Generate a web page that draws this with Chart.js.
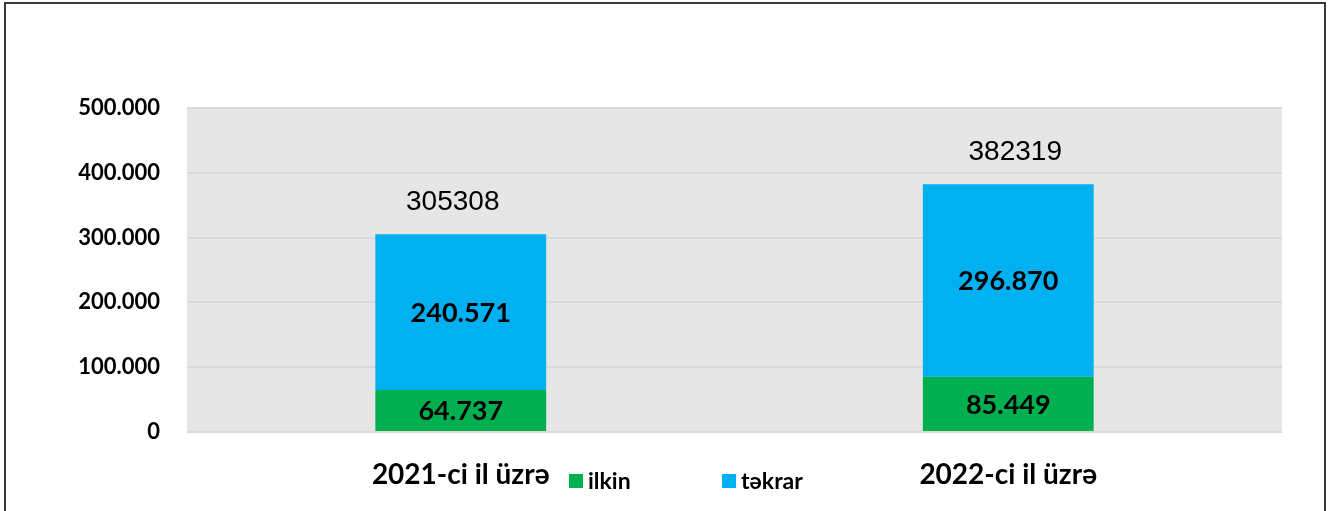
<!DOCTYPE html>
<html>
<head>
<meta charset="utf-8">
<script src="https://cdn.jsdelivr.net/npm/chart.js@4.4.1/dist/chart.umd.min.js"></script>
<style>
  html, body { margin: 0; padding: 0; background: #fff; }
  #wrap { position: relative; width: 1336px; height: 511px; overflow: hidden; }
  #frame { position: absolute; left: 4px; top: 2px; width: 1322px; height: 520px; border: 2px solid #3a3a3a; box-sizing: border-box; pointer-events: none; }
  canvas { position: absolute; left: 0; top: 0; }
</style>
</head>
<body>
<div id="wrap">
  <canvas id="grafico" width="1336" height="511"></canvas>
  <div id="frame"></div>
</div>
<script>
const categorias = ["2021-ci il üzrə", "2022-ci il üzrə"];
const ilkin = [64737, 85449];
const tekrar = [240571, 296870];
const cemler = [305308, 382319];
const rotulos = ["ilkin", "təkrar"];
const cores = ["#00b050", "#00b0f0"];

const fonteCal = "Lato";
const fmt = v => Math.round(v).toString().replace(/\B(?=(\d{3})+(?!\d))/g, ".");

// fundo cinza da área do gráfico
const fundo = {
  id: "fundo",
  beforeDraw(chart) {
    const a = chart.chartArea, c = chart.ctx;
    c.save();
    c.fillStyle = "#e6e6e6";
    c.fillRect(a.left, a.top, a.right - a.left, a.bottom - a.top);
    c.restore();
  }
};

// rótulos dos segmentos e totais
const rotulosBarra = {
  id: "rotulosBarra",
  afterDatasetsDraw(chart) {
    const c = chart.ctx;
    c.save();
    c.textAlign = "center";
    c.textBaseline = "middle";
    c.fillStyle = "#000";
    chart.data.datasets.forEach((ds, i) => {
      const meta = chart.getDatasetMeta(i);
      meta.data.forEach((bar, j) => {
        const p = bar.getProps(["x", "y", "base"], true);
        c.font = "bold 27px " + fonteCal;
        c.fillText(fmt(ds.data[j]), p.x, (p.y + p.base) / 2 + 1);
      });
    });
    const y = chart.scales.y;
    const top = chart.getDatasetMeta(1).data;
    const desloc = [-8, 7];
    c.font = "28px 'Liberation Sans', Arial";
    cemler.forEach((t, j) => {
      c.fillText(String(t), top[j].x + desloc[j], y.getPixelForValue(t) - 32);
    });
    c.restore();
  }
};

// legenda entre os rótulos do eixo x
const legenda = {
  id: "legenda",
  afterDraw(chart) {
    const c = chart.ctx;
    const xs = [569, 722];
    c.save();
    c.font = "bold 23px " + fonteCal;
    c.textBaseline = "middle";
    c.textAlign = "left";
    chart.data.datasets.forEach((ds, i) => {
      c.fillStyle = ds.backgroundColor;
      c.fillRect(xs[i], 474, 14, 14);
      c.fillStyle = "#000";
      c.fillText(ds.label, xs[i] + 19, 482);
    });
    c.restore();
  }
};

const ctx = document.getElementById("grafico");
new Chart(ctx, {
  type: "bar",
  data: {
    labels: categorias,
    datasets: [
      { label: rotulos[0], data: ilkin, backgroundColor: cores[0] },
      { label: rotulos[1], data: tekrar, backgroundColor: cores[1] }
    ]
  },
  options: {
    responsive: false,
    animation: false,
    layout: { padding: { left: 0, right: 54, top: 108, bottom: 0 } },
    datasets: { bar: { categoryPercentage: 1, barPercentage: 0.312 } },
    plugins: { legend: { display: false }, tooltip: { enabled: false } },
    scales: {
      x: {
        stacked: true,
        grid: { display: false },
        border: { display: false },
        ticks: { color: "#000", font: { family: fonteCal, size: 28, weight: "bold" }, padding: 18 },
        afterFit(s) { s.height = 79; }
      },
      y: {
        stacked: true,
        min: 0,
        max: 500000,
        grid: { color: "#d9d9d9", lineWidth: 2, drawTicks: false },
        border: { display: false },
        ticks: {
          stepSize: 100000,
          color: "#000",
          padding: 27,
          font: { family: fonteCal, size: 22, weight: "bold" },
          callback: v => fmt(v)
        },
        afterFit(s) { s.width = 187; }
      }
    }
  },
  plugins: [fundo, rotulosBarra, legenda]
});
</script>
</body>
</html>
